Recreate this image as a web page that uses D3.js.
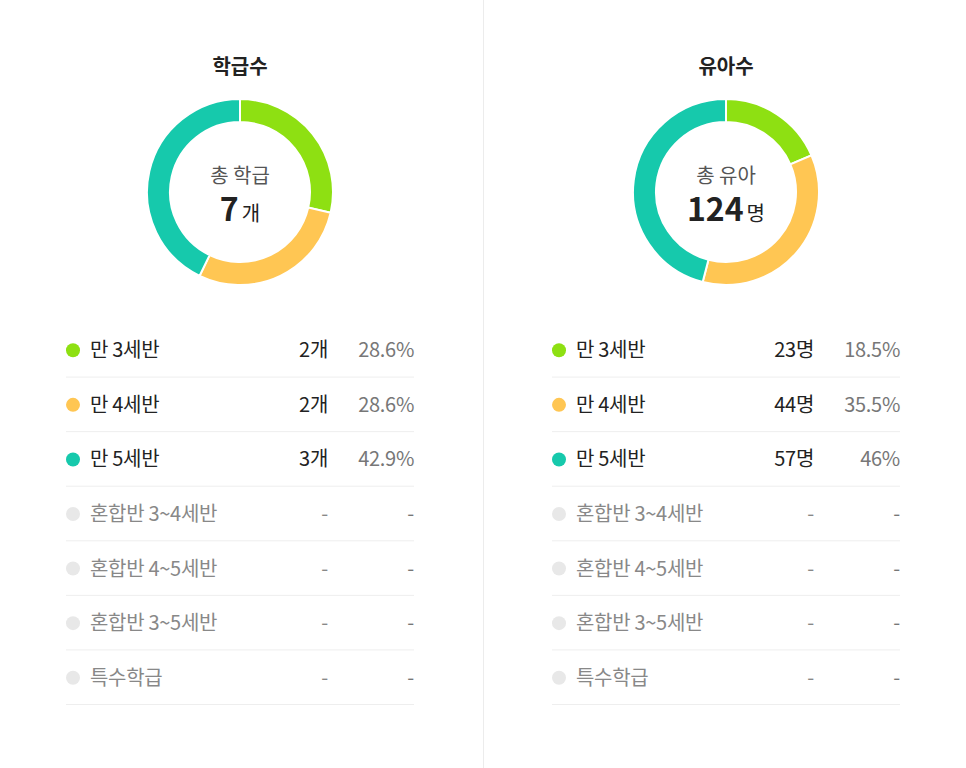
<!DOCTYPE html>
<html><head><meta charset="utf-8">
<script src="https://cdn.jsdelivr.net/npm/d3@7"></script>
<style>
body{margin:0;background:#fff;font-family:"Noto Sans CJK KR","Noto Sans",sans-serif;}
</style></head>
<body><svg id="c" width="966" height="768"></svg>
<script>
// 데이터
const categories = ['만 3세반','만 4세반','만 5세반','혼합반 3~4세반','혼합반 4~5세반','혼합반 3~5세반','특수학급'];
const classCounts = [2, 2, 3, null, null, null, null];
const classPcts = ['28.6%','28.6%','42.9%','-','-','-','-'];
const kidCounts = [23, 44, 57, null, null, null, null];
const kidPcts = ['18.5%','35.5%','46%','-','-','-','-'];
const colors = ['#8ee012','#ffc653','#16c9ac','#e8e8e8','#e8e8e8','#e8e8e8','#e8e8e8'];

const svg = d3.select('#c');
svg.append('line').attr('x1',483.5).attr('x2',483.5).attr('y1',0).attr('y2',768)
  .attr('stroke','#ececec');

function panel(cx, title, centerLabel, total, unit, counts, pcts) {
  const g = svg.append('g');
  g.append('text').attr('x',cx).attr('y',74).attr('text-anchor','middle')
    .attr('font-size',20).attr('font-weight',700).attr('fill','#222').text(title);

  const pie = d3.pie().sort(null).value(d => d.v);
  const arcs = pie(counts.map((v,i)=>({v: v||0, c: colors[i]})).filter(d=>d.v>0));
  const arc = d3.arc().innerRadius(70).outerRadius(93);
  const dg = g.append('g').attr('transform',`translate(${cx},192)`);
  dg.selectAll('path').data(arcs).join('path')
    .attr('d',arc).attr('fill',d=>d.data.c).attr('stroke','#fff').attr('stroke-width',2);
  dg.append('text').attr('y',-9).attr('text-anchor','middle').attr('font-size',20)
    .attr('fill','#555').text(centerLabel);
  const t = dg.append('text').attr('y',29).attr('text-anchor','middle').attr('fill','#222');
  t.append('tspan').attr('font-size',32).attr('font-weight',700).text(total);
  t.append('tspan').attr('font-size',20).attr('dx',3).text(unit);

  const x0 = cx - 174, x1 = cx + 174;
  const y = d3.scaleBand().domain(categories).range([323, 705]);
  categories.forEach((c,i) => {
    const yc = y(c) + y.bandwidth()/2;
    const active = counts[i] != null;
    g.append('circle').attr('cx',x0+7).attr('cy',yc).attr('r',7).attr('fill',colors[i]);
    g.append('text').attr('x',x0+24).attr('y',yc+7).attr('font-size',20).attr('letter-spacing',-0.3)
      .attr('fill',active?'#222':'#888').text(c);
    g.append('text').attr('x',x0+262).attr('y',yc+7).attr('text-anchor','end').attr('font-size',20).attr('letter-spacing',-0.3)
      .attr('fill',active?'#222':'#888').text(active?counts[i]+unit:'-');
    g.append('text').attr('x',x1).attr('y',yc+7).attr('text-anchor','end').attr('font-size',20).attr('letter-spacing',-0.3)
      .attr('fill','#777').text(pcts[i]);
    g.append('line').attr('x1',x0).attr('x2',x1).attr('y1',y(c)+y.bandwidth()-0.5).attr('y2',y(c)+y.bandwidth()-0.5)
      .attr('stroke','#eeeeee');
  });
}

panel(240, '학급수', '총 학급', d3.sum(classCounts), '개', classCounts, classPcts);
panel(726, '유아수', '총 유아', d3.sum(kidCounts), '명', kidCounts, kidPcts);
</script></body></html>
